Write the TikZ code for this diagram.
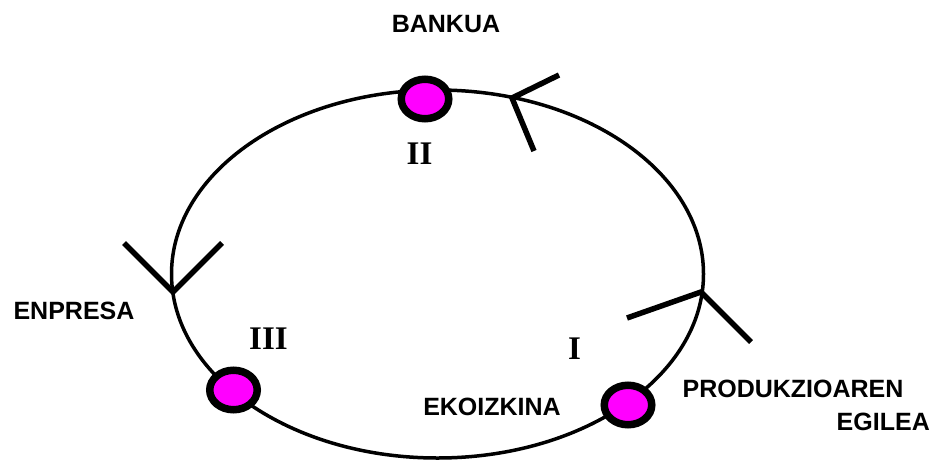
\documentclass[tikz,border=0pt]{standalone}
\usepackage{fontspec}
\setmainfont{Liberation Sans}
\newfontfamily\romanfont{Liberation Serif}
\usetikzlibrary{shapes.geometric}
\definecolor{dotmag}{HTML}{FF00FF}
\tikzset{
  lbl/.style={font=\bfseries\fontsize{25}{30}\selectfont, inner sep=0pt},
  numlbl/.style={font=\romanfont\bfseries\fontsize{33}{40}\selectfont, inner sep=0pt},
  dotnode/.style={ellipse, draw=black, fill=dotmag, line width=7.5pt, minimum width=47.5pt, minimum height=39.5pt, inner sep=0pt},
  arm/.style={line width=5.5pt, line cap=butt, line join=miter},
  ring/.style={line width=3.5pt}
}
\begin{document}
\begin{tikzpicture}[x=1pt,y=-1pt]
\useasboundingbox (0,0) rectangle (933,460);
% cycle
\draw[ring] (437.5,274) ellipse [x radius=266pt, y radius=184pt];
% arrow heads
\coordinate (tv) at (512,98);
\coordinate (ta) at (559,75);
\coordinate (tb) at (534,151);
\draw[arm] (ta) -- (tv) -- (tb);
\coordinate (lv) at (173,292);
\coordinate (la) at (124,243);
\coordinate (lb) at (222,243);
\draw[arm] (la) -- (lv) -- (lb);
\coordinate (rv) at (701,292);
\coordinate (ra) at (627,318);
\coordinate (rb) at (751,342);
\draw[arm] (ra) -- (rv) -- (rb);
% dots
\node[dotnode] (d2) at (425,99) {};
\node[dotnode] (d3) at (233.5,390) {};
\node[dotnode] (d1) at (628,405) {};
% labels
\node[lbl] (bankua) at (446,24) {BANKUA};
\node[lbl] (enpresa) at (74,311) {ENPRESA};
\node[lbl] (ekoizkina) at (492,407) {EKOIZKINA};
\node[lbl] (produk) at (793,389) {PRODUKZIOAREN};
\node[lbl, anchor=east] (egilea) at (930,422) {EGILEA};
\node[numlbl] (n2) at (419.5,153.5) {II};
\node[numlbl] (n3) at (268.5,339) {III};
\node[numlbl] (n1) at (574.5,349) {I};
\end{tikzpicture}
\end{document}
